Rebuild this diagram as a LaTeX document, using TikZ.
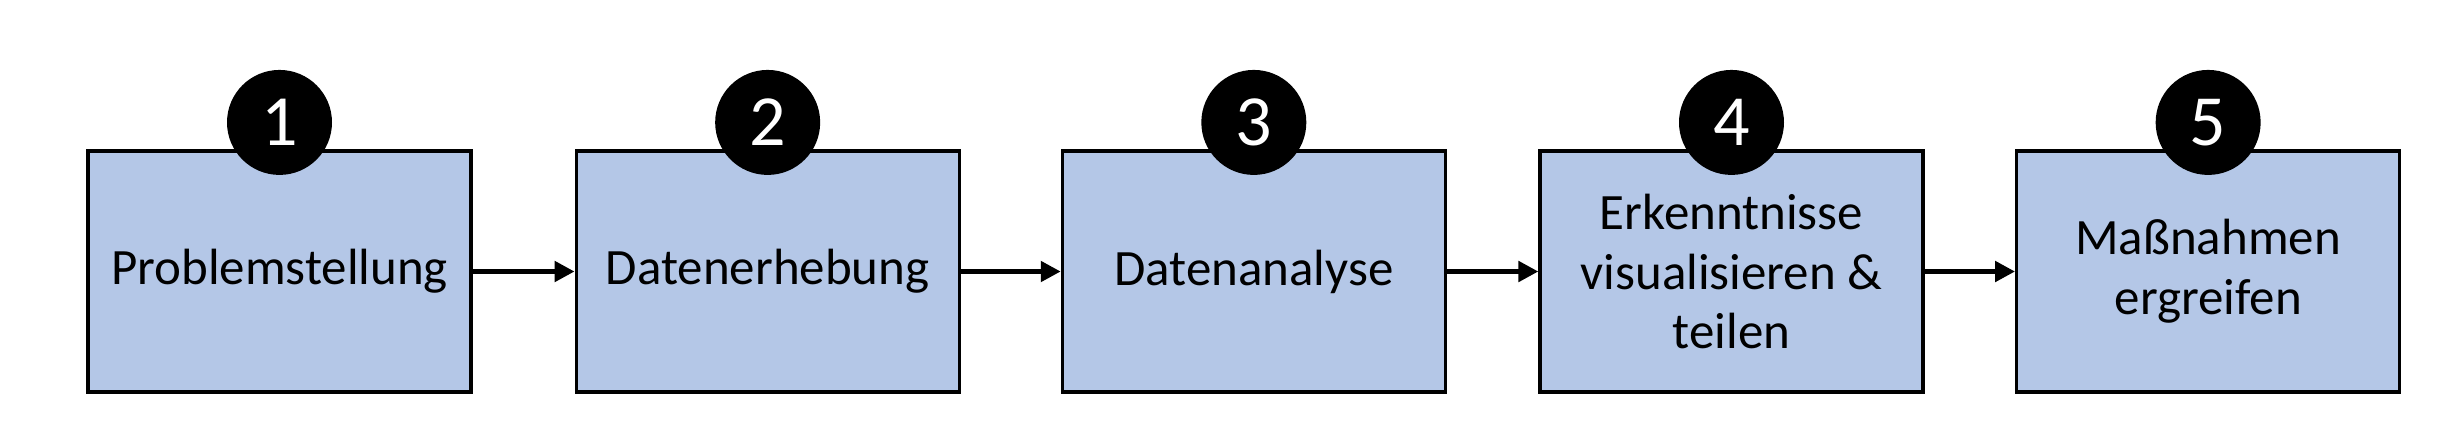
\documentclass[tikz,border=0pt]{standalone}
\usepackage{fontspec}
\setmainfont{Carlito}
\usepackage{tikz}
\usetikzlibrary{positioning,arrows.meta}
\definecolor{stageblue}{RGB}{180, 199, 231}

\begin{document}
\begin{tikzpicture}[
					node distance=0.985cm,
					stage/.style={draw, line width=0.9pt, fill=stageblue, minimum width=3.83cm,
						minimum height=2.41cm, inner sep=0pt, align=center,
						font=\fontsize{14.5}{17}\selectfont},
					num/.style={circle, fill=black, text=white, minimum size=1.05cm,
						inner sep=0pt, font=\fontsize{20.5}{20}\selectfont},
					arr/.style={-{Triangle[length=0.2cm, width=0.2cm]}, line width=1.4pt}
					]
					\useasboundingbox (0,0) rectangle (24.41,4.32);
					\node[stage] (prob)   at (2.795,1.605)         {Problemstellung};
					\node[stage] (erheb)  [right=1.02cm of prob]   {Datenerhebung};
					\node[stage] (anal)   [right=1.0cm of erheb]   {Datenanalyse};
					\node[stage] (visu)   [right=0.915cm of anal]  {Erkenntnisse\\ visualisieren \&\\ teilen};
					\node[stage] (mass)   [right=0.905cm of visu]  {Maßnahmen\\ ergreifen};
					
					\node[num] (n1) at ([yshift=0.27cm]prob.north)  {1};
					\node[num] (n2) at ([yshift=0.27cm]erheb.north) {2};
					\node[num] (n3) at ([yshift=0.27cm]anal.north)  {3};
					\node[num] (n4) at ([yshift=0.27cm]visu.north)  {4};
					\node[num] (n5) at ([yshift=0.27cm]mass.north)  {5};
					
					\draw[arr] (prob)  -- (erheb);
					\draw[arr] (erheb) -- (anal);
					\draw[arr] (anal)  -- (visu);
					\draw[arr] (visu)  -- (mass);
				\end{tikzpicture}
\end{document}
